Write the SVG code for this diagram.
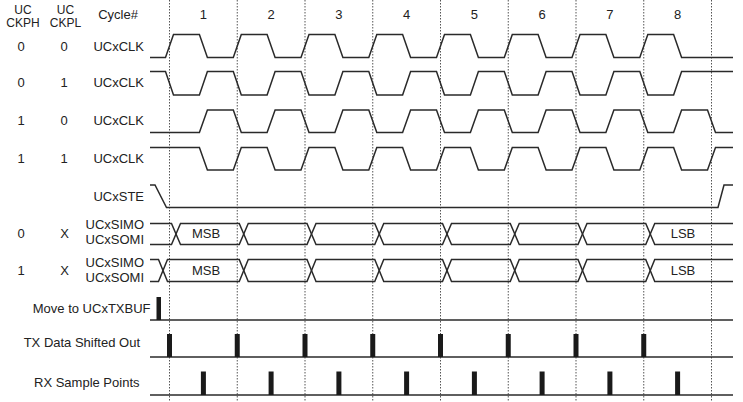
<svg xmlns="http://www.w3.org/2000/svg" width="743" height="402" viewBox="0 0 743 402">
<style>
text{font-family:"Liberation Sans",Arial,sans-serif;font-size:13px;fill:#222}
.h{font-size:12px}
.m{text-anchor:middle}
.e{text-anchor:end}
.w{fill:none;stroke:#2a2a2a;stroke-width:1.5;stroke-linejoin:miter}
.g{stroke:#555;stroke-width:1;stroke-dasharray:1.5 1.5}
.p{fill:#1a1a1a}
</style>
<g id="grid">
<line class="g" x1="169.5" y1="0" x2="169.5" y2="402"/>
<line class="g" x1="237.25" y1="0" x2="237.25" y2="402"/>
<line class="g" x1="305" y1="0" x2="305" y2="402"/>
<line class="g" x1="372.75" y1="0" x2="372.75" y2="402"/>
<line class="g" x1="440.5" y1="0" x2="440.5" y2="402"/>
<line class="g" x1="508.25" y1="0" x2="508.25" y2="402"/>
<line class="g" x1="576" y1="0" x2="576" y2="402"/>
<line class="g" x1="643.75" y1="0" x2="643.75" y2="402"/>
<line class="g" x1="711.5" y1="0" x2="711.5" y2="402"/>
</g>
<g id="header">
<text class="h m" x="23" y="14.3">UC</text>
<text class="h m" x="23" y="27.3">CKPH</text>
<text class="h m" x="65.5" y="14.3">UC</text>
<text class="h m" x="65.5" y="27.3">CKPL</text>
<text class="m" x="118" y="19.3">Cycle#</text>
<text class="m" x="203.4" y="19.3">1</text>
<text class="m" x="271.1" y="19.3">2</text>
<text class="m" x="338.9" y="19.3">3</text>
<text class="m" x="406.6" y="19.3">4</text>
<text class="m" x="474.4" y="19.3">5</text>
<text class="m" x="542.1" y="19.3">6</text>
<text class="m" x="609.9" y="19.3">7</text>
<text class="m" x="677.6" y="19.3">8</text>
</g>
<g id="clk00">
<text class="m" x="21" y="51.3">0</text>
<text class="m" x="64" y="51.3">0</text>
<text class="e" x="144" y="51.3">UCxCLK</text>
<path class="w" d="M150,57.5 H165.5 L173.5,34.5 H199.4 L207.4,57.5 H233.3 L241.3,34.5 H267.1 L275.1,57.5 H301 L309,34.5 H334.9 L342.9,57.5 H368.8 L376.8,34.5 H402.6 L410.6,57.5 H436.5 L444.5,34.5 H470.4 L478.4,57.5 H504.3 L512.3,34.5 H538.1 L546.1,57.5 H572 L580,34.5 H605.9 L613.9,57.5 H639.8 L647.8,34.5 H673.6 L681.6,57.5 H733"/>
</g>
<g id="clk01">
<text class="m" x="21" y="87.4">0</text>
<text class="m" x="64" y="87.4">1</text>
<text class="e" x="144" y="87.4">UCxCLK</text>
<path class="w" d="M150,71.5 H165.5 L173.5,95 H199.4 L207.4,71.5 H233.3 L241.3,95 H267.1 L275.1,71.5 H301 L309,95 H334.9 L342.9,71.5 H368.8 L376.8,95 H402.6 L410.6,71.5 H436.5 L444.5,95 H470.4 L478.4,71.5 H504.3 L512.3,95 H538.1 L546.1,71.5 H572 L580,95 H605.9 L613.9,71.5 H639.8 L647.8,95 H673.6 L681.6,71.5 H733"/>
</g>
<g id="clk10">
<text class="m" x="21" y="125.1">1</text>
<text class="m" x="64" y="125.1">0</text>
<text class="e" x="144" y="125.1">UCxCLK</text>
<path class="w" d="M150,132.5 H199.4 L207.4,110 H233.3 L241.3,132.5 H267.1 L275.1,110 H301 L309,132.5 H334.9 L342.9,110 H368.8 L376.8,132.5 H402.6 L410.6,110 H436.5 L444.5,132.5 H470.4 L478.4,110 H504.3 L512.3,132.5 H538.1 L546.1,110 H572 L580,132.5 H605.9 L613.9,110 H639.8 L647.8,132.5 H673.6 L681.6,110 H707.5 L715.5,132.5 H733"/>
</g>
<g id="clk11">
<text class="m" x="21" y="163.3">1</text>
<text class="m" x="64" y="163.3">1</text>
<text class="e" x="144" y="163.3">UCxCLK</text>
<path class="w" d="M150,147.5 H199.4 L207.4,170 H233.3 L241.3,147.5 H267.1 L275.1,170 H301 L309,147.5 H334.9 L342.9,170 H368.8 L376.8,147.5 H402.6 L410.6,170 H436.5 L444.5,147.5 H470.4 L478.4,170 H504.3 L512.3,147.5 H538.1 L546.1,170 H572 L580,147.5 H605.9 L613.9,170 H639.8 L647.8,147.5 H673.6 L681.6,170 H707.5 L715.5,147.5 H733"/>
</g>
<g id="ste">
<text class="e" x="144" y="201.1">UCxSTE</text>
<path class="w" d="M150,185 H155 L166.5,207.5 H718 L724,185 H733"/>
</g>
<g id="data0">
<text class="m" x="21" y="238.3">0</text>
<text class="m" x="64.5" y="238.3">X</text>
<text class="e" x="144" y="229.3">UCxSIMO</text>
<text class="e" x="144" y="244.3">UCxSOMI</text>
<path class="w" d="M150,223.5 H171.5 L180.5,244.5 H239.25 L248.25,223.5 H307 L316,244.5 H374.75 L383.75,223.5 H442.5 L451.5,244.5 H510.25 L519.25,223.5 H578 L587,244.5 H645.75 L654.75,223.5 H733"/>
<path class="w" d="M150,244.5 H171.5 L180.5,223.5 H239.25 L248.25,244.5 H307 L316,223.5 H374.75 L383.75,244.5 H442.5 L451.5,223.5 H510.25 L519.25,244.5 H578 L587,223.5 H645.75 L654.75,244.5 H733"/>
<text class="m" x="206" y="238.3">MSB</text>
<text class="m" x="683" y="238.3">LSB</text>
</g>
<g id="data1">
<text class="m" x="21" y="275">1</text>
<text class="m" x="64.5" y="275">X</text>
<text class="e" x="144" y="266.7">UCxSIMO</text>
<text class="e" x="144" y="281.7">UCxSOMI</text>
<path class="w" d="M150,259.5 H158.5 L167.5,281.5 H239.25 L248.25,259.5 H307 L316,281.5 H374.75 L383.75,259.5 H442.5 L451.5,281.5 H510.25 L519.25,259.5 H578 L587,281.5 H645.75 L654.75,259.5 H733"/>
<path class="w" d="M150,281.5 H158.5 L167.5,259.5 H239.25 L248.25,281.5 H307 L316,259.5 H374.75 L383.75,281.5 H442.5 L451.5,259.5 H510.25 L519.25,281.5 H578 L587,259.5 H645.75 L654.75,281.5 H733"/>
<text class="m" x="206" y="275">MSB</text>
<text class="m" x="683" y="275">LSB</text>
</g>
<g id="txbuf">
<text class="e" x="150.5" y="312.7">Move to UCxTXBUF</text>
<line class="w" x1="150" y1="320" x2="733" y2="320"/>
<rect class="p" x="156.5" y="297" width="4.5" height="23"/>
</g>
<g id="txout">
<text class="e" x="140" y="346.7">TX Data Shifted Out</text>
<line class="w" x1="150" y1="357" x2="733" y2="357"/>
<rect class="p" x="167" y="334" width="5" height="23"/>
<rect class="p" x="234.75" y="334" width="5" height="23"/>
<rect class="p" x="302.5" y="334" width="5" height="23"/>
<rect class="p" x="370.25" y="334" width="5" height="23"/>
<rect class="p" x="438" y="334" width="5" height="23"/>
<rect class="p" x="505.75" y="334" width="5" height="23"/>
<rect class="p" x="573.5" y="334" width="5" height="23"/>
<rect class="p" x="641.25" y="334" width="5" height="23"/>
</g>
<g id="rx">
<text class="e" x="139.5" y="387.3">RX Sample Points</text>
<line class="w" x1="150" y1="395" x2="733" y2="395"/>
<rect class="p" x="200.9" y="371.5" width="5" height="23.5"/>
<rect class="p" x="268.6" y="371.5" width="5" height="23.5"/>
<rect class="p" x="336.4" y="371.5" width="5" height="23.5"/>
<rect class="p" x="404.1" y="371.5" width="5" height="23.5"/>
<rect class="p" x="471.9" y="371.5" width="5" height="23.5"/>
<rect class="p" x="539.6" y="371.5" width="5" height="23.5"/>
<rect class="p" x="607.4" y="371.5" width="5" height="23.5"/>
<rect class="p" x="675.1" y="371.5" width="5" height="23.5"/>
</g>
</svg>
